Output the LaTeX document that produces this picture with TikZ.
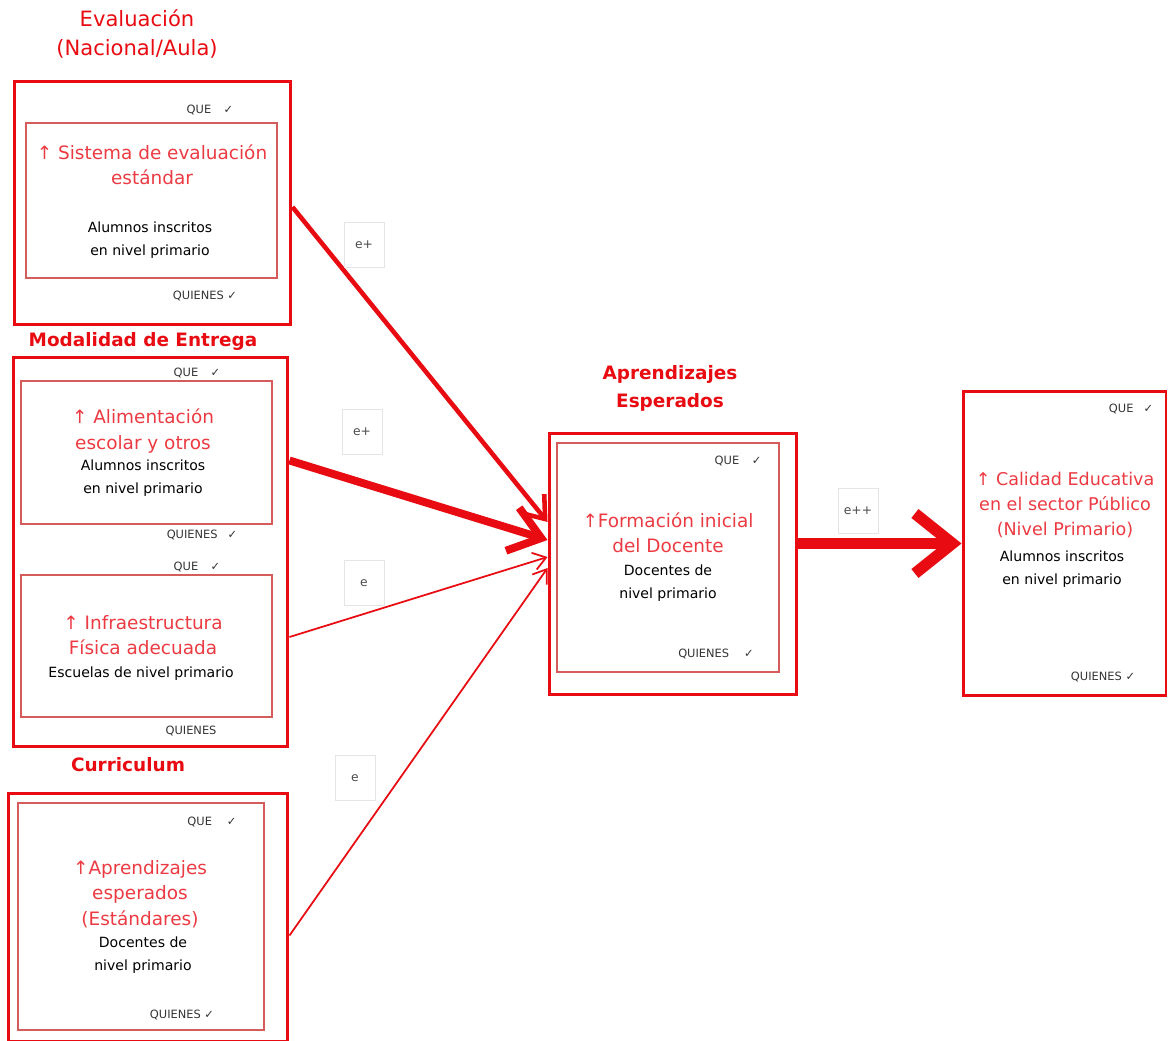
\documentclass[tikz,border=0pt]{standalone}
\usepackage{fontspec}
\setmainfont{DejaVu Sans}
\usetikzlibrary{arrows.meta, positioning, calc}
\definecolor{rojo}{RGB}{232,12,18}
\definecolor{rosa}{RGB}{214,92,92}
\definecolor{titr}{RGB}{236,58,66}
\tikzset{
  caja/.style  = {draw=rojo, line width=1.7pt, inner sep=0pt},
  fina/.style  = {draw=rosa, line width=0.7pt, inner sep=0pt},
  grp/.style   = {text=rojo, align=center, font=\fontsize{10.5}{16}\selectfont\bfseries},
  tit/.style   = {text=titr, align=center, font=\fontsize{10.5}{14.5}\selectfont},
  sub/.style   = {text=black, align=center, font=\fontsize{8}{13}\selectfont},
  tag/.style   = {text=black!80, font=\fontsize{6.5}{7}\selectfont, inner sep=1pt},
  elab/.style  = {draw=gray!20, fill=white, text=black!70, font=\fontsize{7}{8}\selectfont,
                  minimum width=0.8cm, minimum height=0.9cm},
  ln/.style    = {draw=rojo, line width=1pt, -{Straight Barb[length=2.5mm, width=3.5mm]}},
  lt/.style    = {draw=rojo, line width=2.6pt, -{Straight Barb[length=4mm, width=6mm]}},
  lx/.style    = {draw=rojo, line width=4.5pt, -{Straight Barb[length=6mm, width=9mm]}},
  lxx/.style   = {draw=rojo, line width=6.5pt, -{Straight Barb[length=7.5mm, width=12mm]}},
}
\begin{document}
\begin{tikzpicture}[x=0.02cm, y=-0.02cm]
  \useasboundingbox (0,0) rectangle (1168,1040);
  % group titles
  \node[grp, font=\fontsize{12}{16}\selectfont] (gev) at (137,34) {Evaluación\\(Nacional/Aula)};
  \node[grp] (gmod) at (143,341) {Modalidad de Entrega};
  \node[grp] (gcur) at (128,765) {Curriculum};
  \node[grp] (gapr) at (670,388) {Aprendizajes\\Esperados};

  % boxes
  \node[caja, minimum width=5.54cm, minimum height=4.88cm] (ev)   at (152.5,203) {};
  \node[fina, minimum width=5.02cm, minimum height=3.10cm] (sis)  at (151.5,200.5) {};
  \node[caja, minimum width=5.50cm, minimum height=7.80cm] (mod)  at (150.5,552) {};
  \node[fina, minimum width=5.02cm, minimum height=2.86cm] (alim) at (146.5,452.5) {};
  \node[fina, minimum width=5.02cm, minimum height=2.84cm] (infra) at (146.5,646) {};
  \node[caja, minimum width=5.60cm, minimum height=4.98cm] (cur)  at (148,917.5) {};
  \node[fina, minimum width=4.92cm, minimum height=4.54cm] (est)  at (141,916.5) {};
  \node[caja, minimum width=4.96cm, minimum height=5.24cm] (form) at (673,564) {};
  \node[fina, minimum width=4.44cm, minimum height=4.58cm] (doc)  at (668,557.5) {};
  \node[caja, minimum width=4.06cm, minimum height=6.10cm] (calid) at (1064.5,543.5) {};

  % box texts
  \node[tit] (t1) at (152,165) {↑ Sistema de evaluación\\estándar};
  \node[sub] (s1) at (150,240) {Alumnos inscritos\\en nivel primario};
  \node[tag] (q1) at (210,110) {QUE\hspace{2.5mm}✓};
  \node[tag] (w1) at (205,296) {QUIENES ✓};

  \node[tit] (t2) at (143,431) {↑ Alimentación\\escolar y otros};
  \node[sub] (s2) at (143,478) {Alumnos inscritos\\en nivel primario};
  \node[tag, fill=white] (q2) at (197,373) {QUE\hspace{2.5mm}✓};
  \node[tag] (w2) at (202,535) {QUIENES\hspace{2mm}✓};

  \node[tit] (t3) at (143,635) {↑ Infraestructura\\Física adecuada};
  \node[sub] (s3) at (141,674) {Escuelas de nivel primario};
  \node[tag, fill=white] (q3) at (197,567) {QUE\hspace{2.5mm}✓};
  \node[tag] (w3) at (191,731) {QUIENES};

  \node[tit] (t4) at (140,894) {↑Aprendizajes\\esperados\\(Estándares)};
  \node[sub] (s4) at (143,955) {Docentes de\\nivel primario};
  \node[tag] (q4) at (212,822) {QUE\hspace{3mm}✓};
  \node[tag] (w4) at (182,1015) {QUIENES ✓};

  \node[tit] (t5) at (668,533) {↑Formación inicial\\del Docente};
  \node[sub] (s5) at (668,583) {Docentes de\\nivel primario};
  \node[tag] (q5) at (738,461) {QUE\hspace{2.5mm}✓};
  \node[tag] (w5) at (716,654) {QUIENES\hspace{3mm}✓};

  \node[tit, font=\fontsize{10}{14.5}\selectfont] (t6) at (1065,505)
       {↑ Calidad Educativa\\en el sector Público\\(Nivel Primario)};
  \node[sub] (s6) at (1062,569) {Alumnos inscritos\\en nivel primario};
  \node[tag] (q6) at (1131,409) {QUE\hspace{2mm}✓};
  \node[tag] (w6) at (1103,677) {QUIENES ✓};

  % arrow ends on the central box
  \coordinate (p1) at ($(form.west)+(0,-42)$);
  \coordinate (p2) at ($(form.west)+(0,-24)$);
  \coordinate (p3) at ($(form.west)+(0,-7)$);
  \coordinate (p4) at ($(form.west)+(0,4)$);

  \draw[lt]  ($(ev.east)+(0,4)$) -- (p1);
  \draw[lx]  ($(mod.east |- alim.east)+(0,8)$) -- (p2);
  \draw[ln]  ($(mod.east |- infra.east)+(0,-9)$) -- (p3);
  \draw[ln]  ($(cur.east)+(0,18)$) -- (p4);
  \draw[lxx] (form.east |- calid.west) -- (calid.west);

  % effect labels
  \node[elab] (e1) at (364,245) {e+};
  \node[elab] (e2) at (362,432) {e+};
  \node[elab] (e3) at (364,583) {e};
  \node[elab] (e4) at (355,778) {e};
  \node[elab] (e5) at (858,511) {e++};
\end{tikzpicture}
\end{document}
